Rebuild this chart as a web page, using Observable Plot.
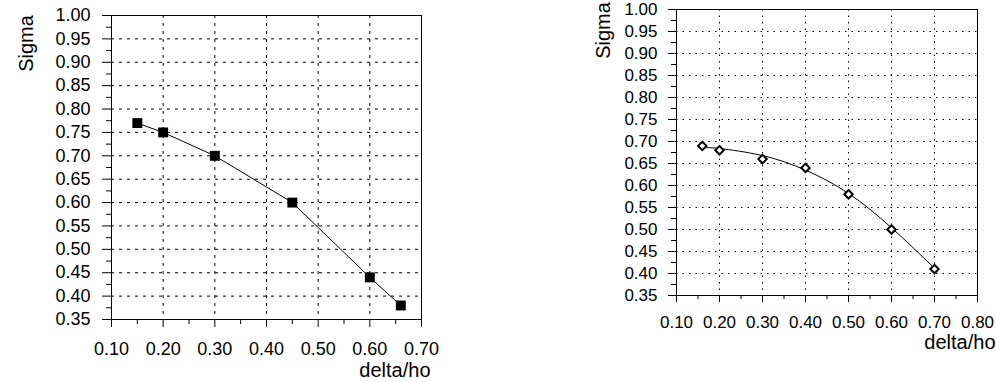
<!DOCTYPE html>
<html><head><meta charset="utf-8">
<script src="https://cdn.jsdelivr.net/npm/d3@7"></script>
<script src="https://cdn.jsdelivr.net/npm/@observablehq/plot@0.6"></script>
<style>
body{margin:0;background:#fff;}
#wrap{position:relative;width:996px;height:382px;overflow:hidden;background:#fff;}
#left{position:absolute;left:0;top:0;}
#right{position:absolute;left:520px;top:0;}
</style></head><body><div id="wrap"><div id="left"></div><div id="right"></div></div>
<script>
// ---- data ----
const leftX = [0.15, 0.20, 0.30, 0.45, 0.60, 0.66];
const leftSigma = [0.77, 0.75, 0.70, 0.60, 0.44, 0.38];
const rightX = [0.16, 0.20, 0.30, 0.40, 0.50, 0.60, 0.70];
const rightSigma = [0.69, 0.68, 0.66, 0.64, 0.58, 0.50, 0.41];
// fitted trend curve of the right chart
const rightFitX = [0.16, 0.20, 0.30, 0.40, 0.50, 0.60, 0.70];
const rightFitSigma = [0.686, 0.684, 0.668, 0.635, 0.582, 0.504, 0.412];
// ticks
const leftXTicks = [0.10, 0.20, 0.30, 0.40, 0.50, 0.60, 0.70];
const leftXMinor = [0.15, 0.25, 0.35, 0.45, 0.55, 0.65];
const rightXTicks = [0.10, 0.20, 0.30, 0.40, 0.50, 0.60, 0.70, 0.80];
const rightXMinor = [0.15, 0.25, 0.35, 0.45, 0.55, 0.65, 0.75];
const yTicks = [0.35, 0.40, 0.45, 0.50, 0.55, 0.60, 0.65, 0.70, 0.75, 0.80, 0.85, 0.90, 0.95, 1.00];
const yMinor = [0.375, 0.425, 0.475, 0.525, 0.575, 0.625, 0.675, 0.725, 0.775, 0.825, 0.875, 0.925, 0.975];
const xLabel = "delta/ho";
const yLabel = "Sigma";

const fmt = d3.format(".2f");
const font = "'Liberation Sans', Arial, Helvetica, sans-serif";

const leftData = leftX.map((x, i) => ({x, y: leftSigma[i]}));
const rightData = rightX.map((x, i) => ({x, y: rightSigma[i]}));
const rightFit = rightFitX.map((x, i) => ({x, y: rightFitSigma[i]}));

const left = Plot.plot({
  width: 460, height: 382,
  marginLeft: 111, marginRight: 39, marginTop: 15, marginBottom: 63,
  style: {fontFamily: font, fontSize: "18px", color: "#000", background: "transparent", overflow: "visible"},
  x: {domain: [0.10, 0.70]},
  y: {domain: [0.35, 1.00]},
  marks: [
    Plot.gridX(leftXTicks, {stroke: "#000", strokeOpacity: 1, strokeDasharray: "3,5"}),
    Plot.gridY(yTicks, {stroke: "#000", strokeOpacity: 1, strokeDasharray: "3,5"}),
    Plot.frame({stroke: "#000"}),
    Plot.axisX({ticks: leftXTicks, tickSize: 8, tickPadding: 15, tickFormat: fmt, label: null}),
    Plot.axisX({ticks: leftXMinor, tickSize: 5, tickFormat: () => "", label: null}),
    Plot.axisY({ticks: yTicks, tickSize: 9, tickPadding: 12, tickFormat: fmt, label: null}),
    Plot.axisY({ticks: yMinor, tickSize: 5, tickFormat: () => "", label: null}),
    Plot.line(leftData, {x: "x", y: "y", stroke: "#000", strokeWidth: 1}),
    Plot.dot(leftData, {x: "x", y: "y", symbol: "square", r: 5.6, fill: "#000", stroke: "none"}),
    Plot.text([xLabel], {frameAnchor: "bottom-right", dx: 9, dy: 57, textAnchor: "end", fontSize: 20, text: d => d}),
    Plot.text([yLabel], {frameAnchor: "top-left", dx: -93, dy: 28, rotate: -90, textAnchor: "middle", fontSize: 20, text: d => d})
  ]
});
document.getElementById("left").appendChild(left);

const right = Plot.plot({
  width: 476, height: 382,
  marginLeft: 156, marginRight: 19, marginTop: 9, marginBottom: 87,
  style: {fontFamily: font, fontSize: "17px", color: "#000", background: "transparent", overflow: "visible"},
  x: {domain: [0.10, 0.80]},
  y: {domain: [0.35, 1.00]},
  marks: [
    Plot.gridX(rightXTicks, {stroke: "#000", strokeOpacity: 1, strokeDasharray: "1.5,5"}),
    Plot.gridY(yTicks, {stroke: "#000", strokeOpacity: 1, strokeDasharray: "1.5,5"}),
    Plot.frame({stroke: "#000"}),
    Plot.axisX({ticks: rightXTicks, tickSize: 7, tickPadding: 13, tickFormat: fmt, label: null}),
    Plot.axisX({ticks: rightXMinor, tickSize: 4, tickFormat: () => "", label: null}),
    Plot.axisY({ticks: yTicks, tickSize: 8, tickPadding: 11, tickFormat: fmt, label: null}),
    Plot.axisY({ticks: yMinor, tickSize: 5, tickFormat: () => "", label: null}),
    Plot.line(rightFit, {x: "x", y: "y", stroke: "#000", strokeWidth: 1, curve: "natural"}),
    Plot.dot(rightData, {x: "x", y: "y", symbol: "diamond2", r: 3.8, fill: "#fff", stroke: "#000", strokeWidth: 2}),
    Plot.text([xLabel], {frameAnchor: "bottom-right", dx: 18, dy: 53, textAnchor: "end", fontSize: 20, text: d => d}),
    Plot.text([yLabel], {frameAnchor: "top-left", dx: -81, dy: 21, rotate: -90, textAnchor: "middle", fontSize: 20, text: d => d})
  ]
});
document.getElementById("right").appendChild(right);
</script>
</body></html>
